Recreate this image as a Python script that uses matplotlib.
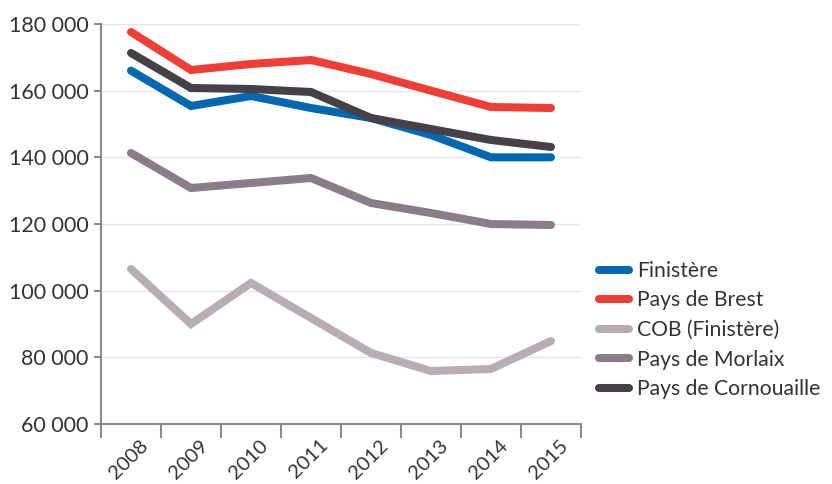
import matplotlib
matplotlib.use("Agg")
import matplotlib.pyplot as plt
from matplotlib.ticker import FuncFormatter

years = ["2008", "2009", "2010", "2011", "2012", "2013", "2014", "2015"]
finistere = [166000, 155400, 158400, 154800, 151800, 146700, 140000, 140000]
brest = [177600, 166200, 168000, 169200, 165000, 160000, 155100, 154800]
cob = [106500, 90000, 102300, 91800, 81300, 75900, 76500, 84900]
morlaix = [141300, 130800, 132300, 133800, 126300, 123300, 120000, 119700]
cornouaille = [171300, 160800, 160500, 159600, 151800, 148500, 145200, 143100]

series = [
    ("Finistère", finistere, "#0068b0"),
    ("Pays de Brest", brest, "#ef3e36"),
    ("COB (Finistère)", cob, "#b9adb5"),
    ("Pays de Morlaix", morlaix, "#8a7d89"),
    ("Pays de Cornouaille", cornouaille, "#474048"),
]

plt.rcParams['font.family'] = ['Lato', 'DejaVu Sans']
text_color = "#333333"
axis_color = "#8c8c8c"

fig = plt.figure(figsize=(8.32, 4.84), dpi=100)
ax = fig.add_axes([101/832, 60/484, 480/832, 400/484])

x = list(range(len(years)))
for name, vals, col in series:
    ax.plot(x, vals, color=col, lw=5.8, solid_capstyle='round',
            solid_joinstyle='miter', label=name)

ax.set_ylim(60000, 180000)
ax.set_yticks(range(60000, 180001, 20000))
ax.yaxis.set_major_formatter(FuncFormatter(lambda v, p: f"{int(v):,}".replace(",", " ")))
ax.set_xlim(-0.5, len(years) - 0.5)
ax.set_xticks([i - 0.5 for i in range(len(years) + 1)])
ax.set_xticklabels([])
ax.set_xticks(x, minor=True)
ax.set_xticklabels(years, minor=True, rotation=45, ha='right',
                   rotation_mode='anchor', fontsize=14.5, color=text_color)
ax.tick_params(axis='x', which='minor', length=0, pad=9)
ax.tick_params(axis='x', which='major', length=10, width=1.5, color=axis_color)
ax.tick_params(axis='y', length=5, width=1.5, color=axis_color,
               labelsize=15.5, labelcolor=text_color, pad=4)
for lab in ax.get_xticklabels(minor=True):
    lab.set_transform(lab.get_transform() +
                      matplotlib.transforms.ScaledTranslation(8/100, 0, fig.dpi_scale_trans))

ax.grid(axis='y', color="#e6e6e6", lw=1)
ax.set_axisbelow(True)
for s in ['top', 'right']:
    ax.spines[s].set_visible(False)
for s in ['left', 'bottom']:
    ax.spines[s].set_color(axis_color)
    ax.spines[s].set_linewidth(1.5)

leg = ax.legend(loc='center left', bbox_to_anchor=(580/832, 1 - 330/484),
                bbox_transform=fig.transFigure, frameon=False, fontsize=15.2,
                handlelength=1.4, handletextpad=0.4, labelspacing=0.45,
                labelcolor=text_color)

fig.savefig("out.png", dpi=100)
